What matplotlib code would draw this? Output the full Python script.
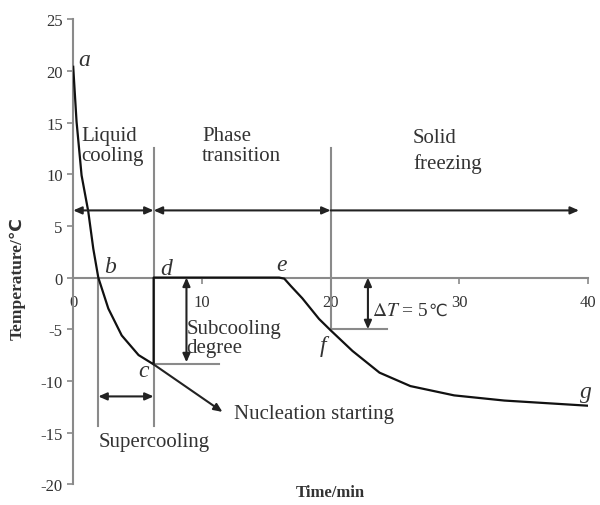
import numpy as np
import matplotlib
matplotlib.use("Agg")
import matplotlib.pyplot as plt

plt.rcParams['font.family'] = ['Liberation Serif', 'DejaVu Sans']
plt.rcParams['mathtext.fontset'] = 'stix'
plt.rcParams['axes.unicode_minus'] = False

# freezing curve
time_min = [0, 0.26, 0.65, 1.17, 1.56, 1.95, 2.73, 3.77, 5.08, 6.25,
            6.25, 8, 10, 12, 14, 16.0, 16.4, 16.9, 17.8, 19.1, 20, 21.7, 23.8,
            26.2, 29.6, 33.5, 37.4, 40]
temp_c = [20.4, 15.1, 9.9, 6.4, 2.8, 0, -3.0, -5.6, -7.5, -8.4,
          0, 0, 0, 0, 0, 0, -0.1, -0.8, -2.0, -4.0, -5.1, -7.1, -9.2,
          -10.5, -11.4, -11.9, -12.2, -12.4]

# labelled points a..g
pt_names = ['a', 'b', 'c', 'd', 'e', 'f', 'g']
pt_x = [0.85, 2.9, 5.5, 7.2, 16.2, 19.4, 39.8]
pt_y = [21.1, 1.1, -9.0, 0.9, 1.3, -6.6, -11.0]

# key times
t_b, t_c, t_f = 1.95, 6.25, 20
T_c, T_f = -8.4, -5.0

xticks = [0, 10, 20, 30, 40]
yticks = [-20, -15, -10, -5, 0, 5, 10, 15, 20, 25]

gray = '#8a8a8a'
txt = '#333333'

fig = plt.figure(figsize=(6, 5.06), dpi=100)
ax = fig.add_axes([0.122, 0.041, 0.858, 0.919])
ax.set_xlim(0, 40)
ax.set_ylim(-20, 25)

for s in ['top', 'right']:
    ax.spines[s].set_visible(False)
ax.spines['bottom'].set_position(('data', 0))
for s in ['left', 'bottom']:
    ax.spines[s].set_color(gray)
    ax.spines[s].set_linewidth(1.5)
ax.set_xticks(xticks)
ax.set_yticks(yticks)
ax.tick_params(axis='both', colors=gray, labelcolor=txt, labelsize=12, length=4, width=1.2)
ax.tick_params(axis='x', pad=8)

# curve
ax.plot(time_min, temp_c, color='#111111', lw=1.6, zorder=3)

# vertical guide lines
ax.plot([t_c, t_c], [12.5, -14.4], color=gray, lw=1.5)
ax.plot([t_b, t_b], [0, -14.4], color=gray, lw=1.5)
ax.plot([t_f, t_f], [12.5, T_f], color=gray, lw=1.5)

def arrow(x0, y0, x1, y1, style):
    ax.annotate('', xy=(x1, y1), xytext=(x0, y0),
                arrowprops=dict(arrowstyle=style + ',head_length=0.5,head_width=0.22',
                                color='#222222', lw=1.5, shrinkA=0, shrinkB=0))

# stage arrows
arrow(0, 6.5, t_c, 6.5, '<|-|>')
arrow(t_c, 6.5, t_f, 6.5, '<|-|>')
arrow(t_f, 6.5, 39.3, 6.5, '-|>')

# subcooling degree
arrow(8.8, 0, 8.8, -8.2, '<|-|>')
ax.plot([t_c, 11.3], [T_c, T_c], color=gray, lw=1.5)
# supercooling
arrow(t_b, -11.5, t_c, -11.5, '<|-|>')
# nucleation
arrow(t_c, T_c, 11.6, -13.0, '-|>')
# delta T
arrow(22.9, 0, 22.9, -5.0, '<|-|>')
ax.plot([t_f, 24.4], [T_f, T_f], color=gray, lw=1.5)

fs = 15
ax.text(0.6, 12.8, 'Liquid\ncooling', fontsize=fs, color=txt, va='center', linespacing=1.1)
ax.text(10.0, 12.8, 'Phase\ntransition', fontsize=fs, color=txt, va='center', linespacing=1.1)
ax.text(26.4, 12.3, 'Solid\nfreezing', fontsize=fs, color=txt, va='center', linespacing=1.35)
ax.text(8.8, -5.8, 'Subcooling\ndegree', fontsize=fs, color=txt, va='center', linespacing=1.0)
ax.text(1.95, -15.9, 'Supercooling', fontsize=fs, color=txt, va='center')
ax.text(12.5, -13.2, 'Nucleation starting', fontsize=fs, color=txt, va='center')

# delta T label, built in pieces so that the degree sign has a font
t1 = ax.text(23.2, -3.6, r'$\Delta T$ = 5', fontsize=14, color=txt, va='baseline')
ax.annotate('℃', xy=(1, 0), xycoords=t1, xytext=(0, 0), textcoords='offset points',
            fontsize=12, color=txt, va='bottom', family='DejaVu Sans')

for n, x, y in zip(pt_names, pt_x, pt_y):
    ax.text(x, y, n, fontsize=17, style='italic', color=txt, ha='center', va='center')

fig.text(0.55, 0.026, 'Time/min', fontsize=12, fontweight='bold', color=txt, ha='center', va='center')
fig.text(0.03, 0.45, 'Temperature/℃', fontsize=12.5, fontweight='bold', color=txt,
         rotation=90, ha='center', va='center')

fig.savefig('out.png', dpi=100)
